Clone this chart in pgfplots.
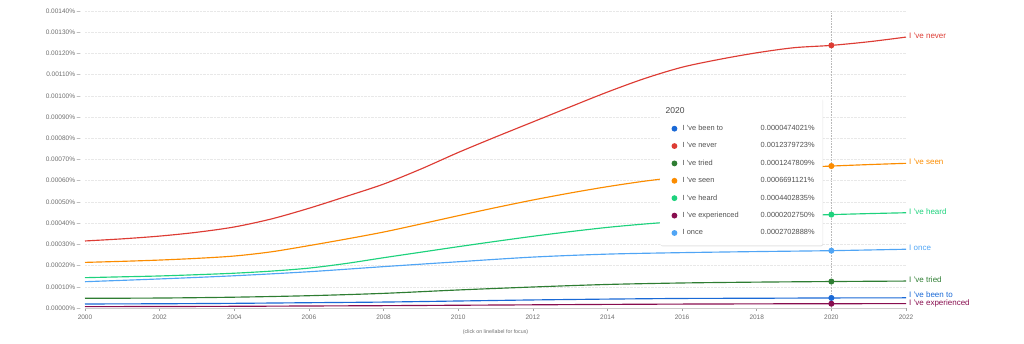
\documentclass[border=0pt]{standalone}
\usepackage{fontspec}
\setmainfont{Liberation Sans}
\usepackage{pgfplots}
\pgfplotsset{compat=1.18}
\usetikzlibrary{shadows}
\definecolor{cBeen}{RGB}{26,105,214}
\definecolor{cNever}{RGB}{221,60,52}
\definecolor{cTried}{RGB}{46,125,50}
\definecolor{cSeen}{RGB}{251,140,0}
\definecolor{cHeard}{RGB}{30,210,125}
\definecolor{cExp}{RGB}{136,14,79}
\definecolor{cOnce}{RGB}{80,165,245}
\definecolor{tickgray}{RGB}{110,110,110}
\definecolor{legtext}{RGB}{80,80,80}
\begin{document}
\begin{tikzpicture}
\useasboundingbox (-85pt,-35pt) rectangle (939pt,308pt);
\begin{axis}[
  at={(0pt,0pt)}, anchor=south west,
  scale only axis, width=821pt, height=297pt,
  xmin=2000, xmax=2022, ymin=0, ymax=0.0014,
  clip=false,
  scaled y ticks=false, scaled x ticks=false,
  axis lines*=left,
  x axis line style={draw=gray!40, line width=0.6pt},
  y axis line style={draw=none},
  ytick style={draw=none},
  xtick style={draw=gray!70, line width=0.5pt},
  tick align=outside, major tick length=3pt,
  xtick={2000,2002,2004,2006,2008,2010,2012,2014,2016,2018,2020,2022},
  ytick={0,0.0001,0.0002,0.0003,0.0004,0.0005,0.0006,0.0007,0.0008,0.0009,0.001,0.0011,0.0012,0.0013,0.0014},
  xticklabel={\pgfmathprintnumber[assume math mode=true,1000 sep={},fixed,precision=0]{\tick}},
  yticklabel={\pgfmathprintnumber[assume math mode=true,fixed,precision=5,zerofill]{\tick}\%\ –},
  ticklabel style={font=\fontsize{6.5}{7}\selectfont, text=tickgray},
  yticklabel style={xshift=2pt},
  ymajorgrids, grid style={densely dotted, gray!18, line width=0.5pt},
  every axis plot/.append style={line width=1.15pt, smooth},
  legend style={at={(0.70,0.707)}, anchor=north west, fill=white, draw=none,
    rounded corners=2pt, drop shadow={shadow xshift=0.5pt, shadow yshift=-1pt, opacity=0.22},
    font=\fontsize{7.4}{8}\selectfont, text=legtext, row sep=6.6pt,
    inner xsep=6pt, inner ysep=7pt},
  legend cell align=left,
]
% data
\addplot[cBeen, forget plot] coordinates {(2000,0.000019)(2002,0.000020)(2004,0.000022)(2006,0.000025)(2008,0.000028)(2010,0.000033)(2012,0.000038)(2014,0.000042)(2016,0.000045)(2018,0.000046)(2020,0.0000474021)(2022,0.000048)};
\addplot[cExp, forget plot] coordinates {(2000,0.0000065)(2002,0.000007)(2004,0.000008)(2006,0.0000095)(2008,0.000011)(2010,0.000013)(2012,0.000015)(2014,0.000017)(2016,0.0000185)(2018,0.0000195)(2020,0.000020275)(2022,0.0000205)};
\addplot[cTried, forget plot] coordinates {(2000,0.0000457)(2002,0.000047)(2004,0.000051)(2006,0.000058)(2008,0.000069)(2010,0.000085)(2012,0.000099)(2014,0.000111)(2016,0.000118)(2018,0.000122)(2020,0.0001247809)(2022,0.000127)};
\addplot[cOnce, forget plot] coordinates {(2000,0.000124)(2002,0.000137)(2004,0.000152)(2006,0.000171)(2008,0.000195)(2010,0.000218)(2012,0.000240)(2014,0.000254)(2016,0.000261)(2018,0.000266)(2020,0.0002702888)(2022,0.000277)};
\addplot[cHeard, forget plot] coordinates {(2000,0.000143)(2001,0.000147)(2002,0.000151)(2003,0.000157)(2004,0.000164)(2005,0.000174)(2006,0.000188)(2007,0.000210)(2008,0.000237)(2009,0.000263)(2010,0.000289)(2011,0.000314)(2012,0.000338)(2013,0.000360)(2014,0.000380)(2015,0.000396)(2016,0.000409)(2017,0.000419)(2018,0.000428)(2019,0.000435)(2020,0.0004402835)(2021,0.000445)(2022,0.000449)};
\addplot[cSeen, forget plot] coordinates {(2000,0.000215)(2001,0.000220)(2002,0.000226)(2003,0.000234)(2004,0.000245)(2005,0.000265)(2006,0.000294)(2007,0.000325)(2008,0.000358)(2009,0.000396)(2010,0.000435)(2011,0.000473)(2012,0.000509)(2013,0.000542)(2014,0.000572)(2015,0.000598)(2016,0.000619)(2017,0.000636)(2018,0.000650)(2019,0.000661)(2020,0.0006691121)(2021,0.000676)(2022,0.000682)};
\addplot[cNever, forget plot] coordinates {(2000,0.000316)(2001,0.000326)(2002,0.000339)(2003,0.000357)(2004,0.000382)(2005,0.000420)(2006,0.000470)(2007,0.000526)(2008,0.000584)(2009,0.000655)(2010,0.000733)(2011,0.000806)(2012,0.000877)(2013,0.000948)(2014,0.001018)(2015,0.001082)(2016,0.001135)(2017,0.001172)(2018,0.001203)(2019,0.001227)(2020,0.0012379723)(2021,0.001255)(2022,0.001277)};
% vertical marker line at 2020
\draw[densely dotted, gray!55, line width=0.6pt] (axis cs:2020,0) -- (axis cs:2020,0.0014);
% 2020 dots
\addplot[only marks, mark=*, mark size=2.4pt, cBeen, forget plot] coordinates {(2020,0.0000474021)};
\addplot[only marks, mark=*, mark size=2.4pt, cNever, forget plot] coordinates {(2020,0.0012379723)};
\addplot[only marks, mark=*, mark size=2.4pt, cTried, forget plot] coordinates {(2020,0.0001247809)};
\addplot[only marks, mark=*, mark size=2.4pt, cSeen, forget plot] coordinates {(2020,0.0006691121)};
\addplot[only marks, mark=*, mark size=2.4pt, cHeard, forget plot] coordinates {(2020,0.0004402835)};
\addplot[only marks, mark=*, mark size=2.4pt, cExp, forget plot] coordinates {(2020,0.000020275)};
\addplot[only marks, mark=*, mark size=2.4pt, cOnce, forget plot] coordinates {(2020,0.0002702888)};
% tooltip legend
\addlegendimage{empty legend}
\addlegendentry{\hspace{-13pt}\fontsize{8.5}{9}\selectfont\color{legtext!90!black}2020}
\addlegendimage{only marks, mark=*, mark size=2.3pt, cBeen}
\addlegendentry{\hspace{4pt}\makebox[78pt][l]{I 've been to}0.0000474021\%}
\addlegendimage{only marks, mark=*, mark size=2.3pt, cNever}
\addlegendentry{\hspace{4pt}\makebox[78pt][l]{I 've never}0.0012379723\%}
\addlegendimage{only marks, mark=*, mark size=2.3pt, cTried}
\addlegendentry{\hspace{4pt}\makebox[78pt][l]{I 've tried}0.0001247809\%}
\addlegendimage{only marks, mark=*, mark size=2.3pt, cSeen}
\addlegendentry{\hspace{4pt}\makebox[78pt][l]{I 've seen}0.0006691121\%}
\addlegendimage{only marks, mark=*, mark size=2.3pt, cHeard}
\addlegendentry{\hspace{4pt}\makebox[78pt][l]{I 've heard}0.0004402835\%}
\addlegendimage{only marks, mark=*, mark size=2.3pt, cExp}
\addlegendentry{\hspace{4pt}\makebox[78pt][l]{I 've experienced}0.0000202750\%}
\addlegendimage{only marks, mark=*, mark size=2.3pt, cOnce}
\addlegendentry{\hspace{4pt}\makebox[78pt][l]{I once}0.0002702888\%}
% end labels
\begin{scope}[every node/.style={anchor=west, font=\fontsize{8}{9}\selectfont, inner sep=0pt, xshift=3pt}]
\node[text=cNever] at (axis cs:2022,0.001282) {I 've never};
\node[text=cSeen] at (axis cs:2022,0.000690) {I 've seen};
\node[text=cHeard] at (axis cs:2022,0.000455) {I 've heard};
\node[text=cOnce] at (axis cs:2022,0.000282) {I once};
\node[text=cTried] at (axis cs:2022,0.000135) {I 've tried};
\node[text=cBeen] at (axis cs:2022,0.000061) {I 've been to};
\node[text=cExp] at (axis cs:2022,0.000021) {I 've experienced};
\end{scope}
\node[font=\fontsize{5.3}{6}\selectfont, text=tickgray] at (rel axis cs:0.5,0) [yshift=-24pt] {(click on line/label for focus)};
\end{axis}
\end{tikzpicture}
\end{document}
